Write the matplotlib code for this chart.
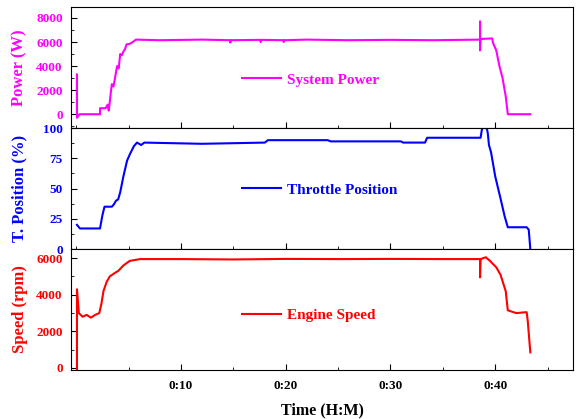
import matplotlib
matplotlib.use('Agg')
from matplotlib import pyplot as plt
from matplotlib.ticker import MultipleLocator, FixedLocator

plt.rcParams['font.family'] = ['Liberation Serif', 'DejaVu Serif']
plt.rcParams['font.weight'] = 'bold'

# ----- data (time in minutes) -----
power_t = [0.07, 0.07, 0.07, 0.30, 2.27, 2.27, 2.80, 3.00, 3.10, 3.20, 3.30, 3.40, 3.55,
           3.70, 3.90, 4.05, 4.20, 4.35, 4.50, 4.65, 4.80, 5.10, 5.40, 5.70, 8.0,
           12.0, 14.7, 14.7, 14.8, 17.6, 17.6, 17.7, 19.8, 19.8, 19.9, 22.0, 26.0,
           30.0, 34.0, 38.55, 38.55, 38.55, 38.6,
           39.7, 39.8, 40.1, 40.4, 40.7, 41.0, 41.2, 43.35]
power_w = [0, 3300, -300, 0, 0, 500, 500, 800, 300, 1000, 1800, 2500, 2300,
           3000, 4000, 3800, 5000, 4900, 5200, 5400, 5800, 5850, 6000, 6200, 6150,
           6200, 6150, 5950, 6150, 6180, 6000, 6180, 6150, 6000, 6150, 6200, 6150,
           6180, 6150, 6200, 7700, 5300, 6250,
           6300, 5900, 5300, 4000, 3000, 1500, 0, 0]

throttle_t = [0.07, 0.35, 2.27, 2.50, 2.70, 3.40, 3.60, 3.80, 4.00, 4.20, 4.50, 4.85,
              5.10, 5.50, 5.80, 6.20, 6.50, 12.0, 18.0, 18.3, 24.0, 24.3, 31.0, 31.2,
              33.3, 33.5, 38.6, 38.75, 39.2, 39.3, 39.4, 39.6, 40.0, 40.5, 40.9,
              41.2, 43.0, 43.2, 43.35]
throttle_p = [20, 17, 17, 28, 35, 35, 37, 40, 41, 47, 60, 73,
              78, 85, 88, 86, 88, 87, 88, 90, 90, 89, 89, 88,
              88, 92, 92, 100, 100, 95, 86, 80, 60, 42, 27,
              18, 18, 16, 0]

speed_t = [0.07, 0.07, 0.25, 0.6, 1.0, 1.4, 1.8, 2.2, 2.4, 2.6, 2.9, 3.2, 3.7, 4.0,
           4.5, 5.1, 6.1, 10.0, 15.0, 20.0, 25.0, 30.0, 35.0, 38.55, 38.55, 38.6,
           39.1, 39.5, 40.1, 40.5, 41.0, 41.2, 42.0, 43.0, 43.1, 43.35]
speed_rpm = [-100, 4300, 3000, 2800, 2900, 2750, 2900, 3000, 3500, 4200, 4700, 5000,
             5200, 5300, 5600, 5850, 5950, 5950, 5930, 5960, 5950, 5960, 5950, 5950,
             4950, 5950, 6050, 5850, 5500, 5100, 4200, 3150, 3000, 3050, 2600, 850]

panels = [
    (power_t, power_w, '#FF00FF', 'Power (W)', 'System Power', (-1150, 8900),
     [0, 2000, 4000, 6000, 8000], 1000, 0.40),
    (throttle_t, throttle_p, '#0000FF', 'T. Position (%)', 'Throttle Position', (0, 100),
     [0, 25, 50, 75, 100], 12.5, 0.49),
    (speed_t, speed_rpm, '#FF0000', 'Speed (rpm)', 'Engine Speed', (-110, 6500),
     [0, 2000, 4000, 6000], 1000, 0.45),
]

fig, axes = plt.subplots(3, 1, sharex=True, figsize=(5.82, 4.19), dpi=100)
fig.subplots_adjust(left=0.122, right=0.985, top=0.983, bottom=0.117, hspace=0)

for ax, (t, v, c, ylab, leg, ylim, yt, ymin, legy) in zip(axes, panels):
    ax.plot(t, v, color=c, lw=1.5, label=leg)
    ax.set_ylim(ylim)
    ax.yaxis.set_major_locator(FixedLocator(yt))
    ax.yaxis.set_minor_locator(MultipleLocator(ymin))
    ax.set_ylabel(ylab, color=c, fontsize=12, fontweight='bold')
    ax.yaxis.set_label_coords(-0.086, 0.5)
    ax.tick_params(axis='y', which='both', direction='in', colors='black',
                   labelcolor=c, labelsize=9.5, pad=6)
    ax.tick_params(axis='x', which='both', direction='in', labelsize=9.5, pad=7)
    ax.tick_params(which='major', length=4)
    ax.tick_params(which='minor', length=2.5)
    for lab in ax.get_yticklabels():
        lab.set_fontweight('bold')
    lg = ax.legend(loc='center left', bbox_to_anchor=(0.34, legy), frameon=False,
                   fontsize=11, handlelength=2.6, handletextpad=0.35,
                   borderpad=0, borderaxespad=0)
    for txt in lg.get_texts():
        txt.set_color(c)
        txt.set_fontweight('bold')

ax = axes[-1]
ax.set_xlim(-0.5, 47.45)
ax.xaxis.set_major_locator(FixedLocator([10, 20, 30, 40]))
ax.xaxis.set_minor_locator(FixedLocator([0, 5, 15, 25, 35, 45]))
ax.set_xticklabels(['0:10', '0:20', '0:30', '0:40'], fontweight='bold')
for a in axes[:-1]:
    a.xaxis.set_minor_locator(FixedLocator([0, 5, 15, 25, 35, 45]))
ax.set_xlabel('Time (H:M)', fontsize=11.5, fontweight='bold', labelpad=8)

fig.savefig('out.png', dpi=100)
